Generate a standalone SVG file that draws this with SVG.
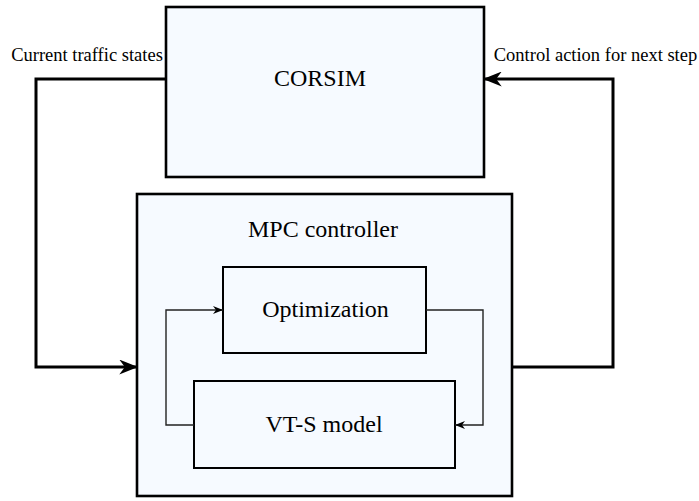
<svg xmlns="http://www.w3.org/2000/svg" width="699" height="501" viewBox="0 0 699 501">
<style>
.box{fill:#f6faff;stroke:#000}
.big{stroke-width:2.6}
.small{stroke-width:2}
text{font-family:'Liberation Serif','Times New Roman','DejaVu Serif',serif;fill:#000;text-anchor:middle}
.lbl{font-size:24px}
.side{font-size:18.5px}
.conn{fill:none;stroke:#000;stroke-width:3}
.iconn{fill:none;stroke:#222;stroke-width:1.4}
</style>
<defs>
<marker id="ah" viewBox="0 0 10 8" refX="10" refY="4" markerWidth="10" markerHeight="8" markerUnits="userSpaceOnUse" orient="auto">
<path d="M0,0 L10,4 L0,8 L3,4 Z" fill="#000"/>
</marker>
<marker id="ahBig" viewBox="0 0 10 8" refX="10" refY="4" markerWidth="22" markerHeight="15" markerUnits="userSpaceOnUse" orient="auto">
<path d="M0,0 L10,4 L0,8 L3,4 Z" fill="#000"/>
</marker>
</defs>
<rect width="699" height="501" fill="#fff"/>
<g id="connectors">
<path class="conn" d="M166,79 H36 V367 H138" marker-end="url(#ahBig)"/>
<path class="conn" d="M512,367 H613 V79 H483" marker-end="url(#ahBig)"/>
</g>
<g id="corsim">
<rect class="box big" x="166" y="7" width="318" height="170"/>
<text class="lbl" x="320" y="86">CORSIM</text>
</g>
<g id="mpc">
<rect class="box big" x="137" y="194" width="375" height="302"/>
<text class="lbl" x="323" y="237">MPC controller</text>
</g>
<g id="optimization">
<rect class="box small" x="223" y="267" width="203" height="86"/>
<text class="lbl" x="325.5" y="317">Optimization</text>
</g>
<g id="vts">
<rect class="box small" x="194" y="381" width="261" height="87"/>
<text class="lbl" x="324" y="432">VT-S model</text>
</g>
<g id="inner-connectors">
<path class="iconn" d="M194,425 H166 V310 H223" marker-end="url(#ah)"/>
<path class="iconn" d="M426,310 H483 V425 H455" marker-end="url(#ah)"/>
</g>
<g id="labels">
<text class="side" x="87" y="61">Current traffic states</text>
<text class="side" x="595.5" y="61">Control action for next step</text>
</g>
</svg>
